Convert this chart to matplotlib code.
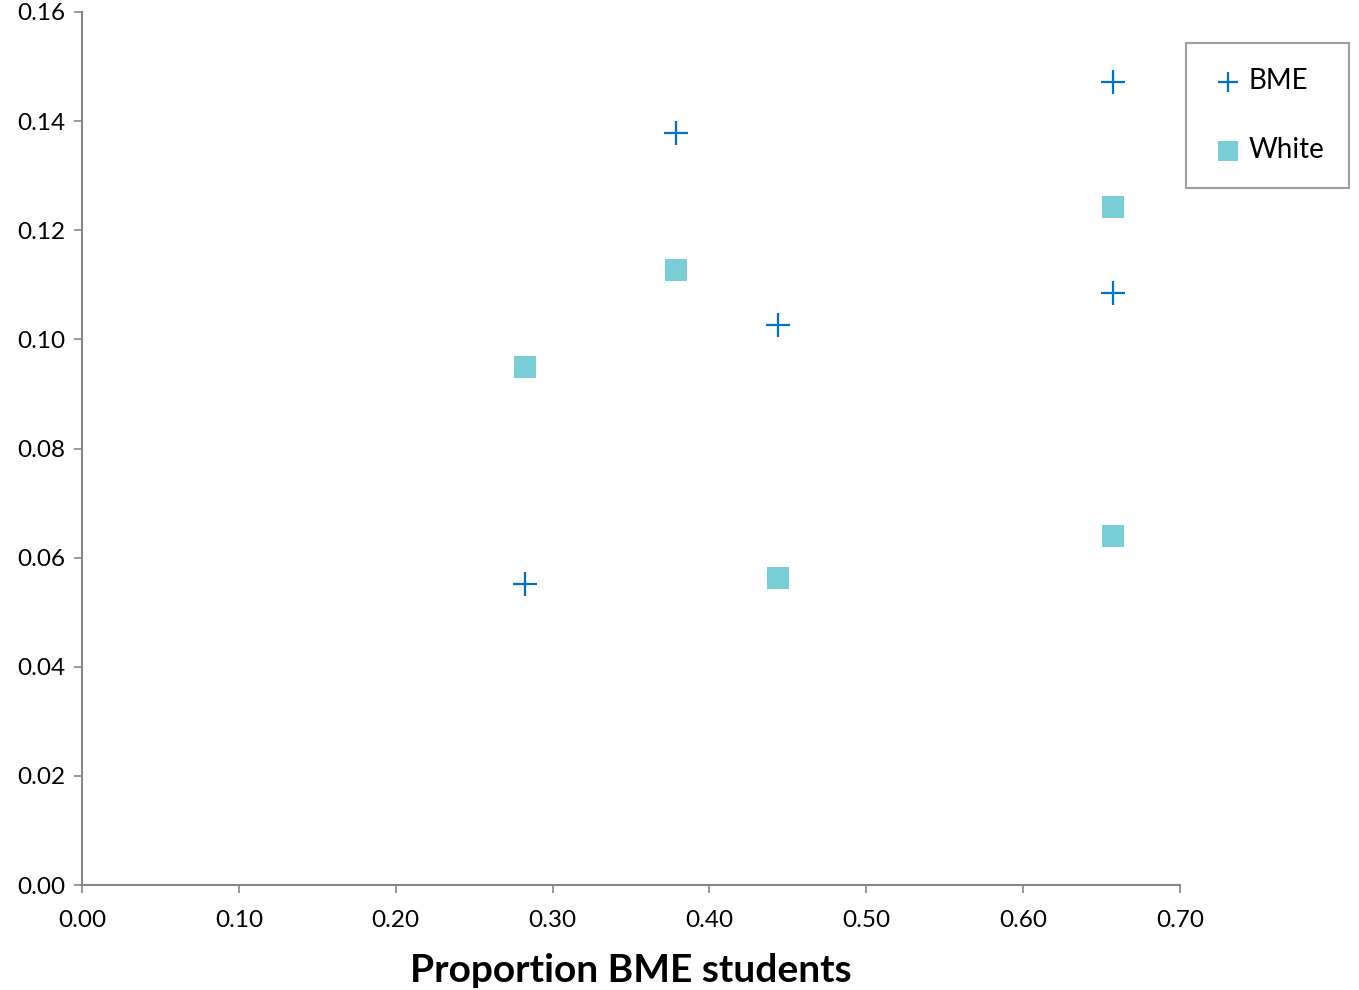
import matplotlib.pyplot as plt

# Data
bme_x = [0.2824, 0.3787, 0.4437, 0.6573, 0.6573]
bme_y = [0.0552, 0.1378, 0.1026, 0.1472, 0.1085]
white_x = [0.2824, 0.3787, 0.4437, 0.6573, 0.6573]
white_y = [0.0949, 0.1127, 0.0563, 0.1243, 0.0640]

x_ticks = [0.0, 0.1, 0.2, 0.3, 0.4, 0.5, 0.6, 0.7]
y_ticks = [0.0, 0.02, 0.04, 0.06, 0.08, 0.10, 0.12, 0.14, 0.16]

plt.rcParams['font.family'] = ['Lato', 'DejaVu Sans']
axis_grey = '#868686'

fig = plt.figure(figsize=(13.59, 9.90), dpi=100)
ax = fig.add_axes([82 / 1359, 105 / 990, (1180 - 82) / 1359, (885 - 12) / 990])

ax.scatter(bme_x, bme_y, marker='+', s=300, linewidths=1.6, color='#0070C0', label='BME', zorder=3)
ax.scatter(white_x, white_y, marker='s', s=260, linewidths=0, color='#78CDD7', label='White', zorder=3)

ax.set_xlim(0, 0.7)
ax.set_ylim(0, 0.16)
ax.set_xticks(x_ticks)
ax.set_yticks(y_ticks)
ax.set_xticklabels(['{:.2f}'.format(v) for v in x_ticks])
ax.set_yticklabels(['{:.2f}'.format(v) for v in y_ticks])
ax.tick_params(direction='out', length=6, width=1.2, color=axis_grey, labelsize=17.5, pad=6)
ax.tick_params(axis='x', pad=12)

for side in ['top', 'right']:
    ax.spines[side].set_visible(False)
for side in ['left', 'bottom']:
    ax.spines[side].set_color(axis_grey)
    ax.spines[side].set_linewidth(1.5)

ax.set_xlabel('Proportion BME students', fontsize=28, fontweight='bold', labelpad=16)

leg = fig.legend(loc='upper left', bbox_to_anchor=(1186 / 1359, 1 - 43 / 990), fontsize=20,
                 frameon=True, fancybox=False, edgecolor=axis_grey, handletextpad=0.15,
                 labelspacing=1.55, borderpad=0.9, borderaxespad=0, handlelength=1.2,
                 markerscale=0.85)
leg.get_frame().set_linewidth(1.5)

fig.savefig('out.png', dpi=100)
